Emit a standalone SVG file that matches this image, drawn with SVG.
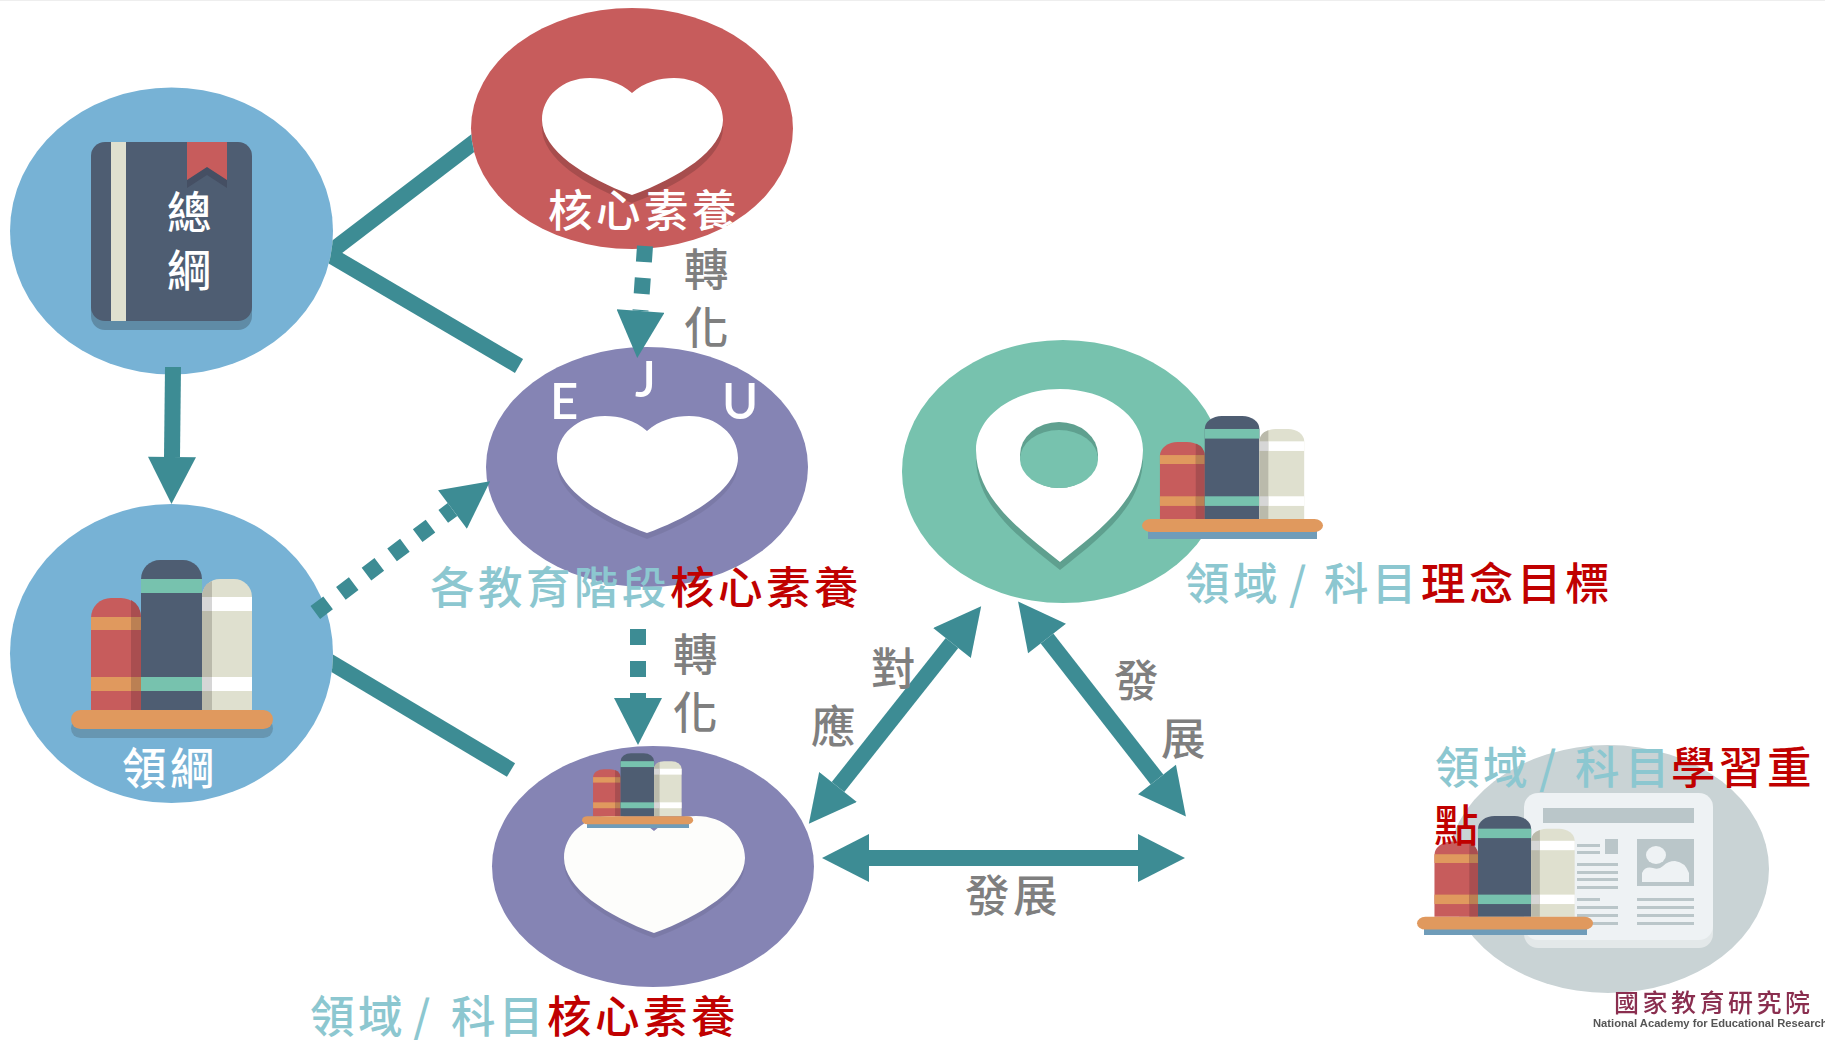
<svg xmlns="http://www.w3.org/2000/svg" width="1825" height="1040" viewBox="0 0 1825 1040">
<style>
text{font-family:"Noto Sans CJK TC","Liberation Sans",sans-serif;font-size:44.5px}
.w{fill:#fff;font-weight:500}
.g{fill:#7f7f7f;font-weight:500}
.t{fill:#8cc7d0;font-weight:500}
.r{fill:#c00000;font-weight:500}
.latin{font-family:"Lato","Liberation Sans",sans-serif;font-size:49px;font-weight:600;fill:#fff}
.conn{fill:none;stroke:#3d8c94;stroke-width:16}
.arr{marker-end:url(#head)}
.both{marker-start:url(#head);marker-end:url(#head)}
.dash{stroke-dasharray:16 16}
.shadow{fill:#000;fill-opacity:.16}
.shadow2{fill:#000;fill-opacity:.07}
.nl{fill:#bac6c9}
.shelf{fill:#6f9cb9}
</style>
<defs>
<marker id="head" markerUnits="userSpaceOnUse" markerWidth="48" markerHeight="48" viewBox="0 0 47 48" refX="0" refY="24" orient="auto-start-reverse"><path d="M0,0L47,24L0,48Z" fill="#3d8c94"/></marker>
<filter id="soft" x="-5%" y="-20%" width="110%" height="140%"><feGaussianBlur stdDeviation="0.6"/></filter>
<path id="heart" d="M632,93C620,82 604,78 590,78C562,78 542,97 542,120C542,150 585,178 632,195C679,178 723,150 723,120C723,97 702,78 674,78C660,78 644,82 632,93Z"/>
<g id="books">
<path d="M91,710V618a20,20 0 0 1 20,-20h10a20,20 0 0 1 20,20V710Z" fill="#c75c5c"/>
<path d="M131,710V600q10,5 10,18V710Z" fill="#a94e50"/>
<rect x="91" y="617" width="40" height="13" fill="#e0995e"/><rect x="131" y="617" width="10" height="13" fill="#bb8053"/>
<rect x="91" y="677" width="40" height="14" fill="#e0995e"/><rect x="131" y="677" width="10" height="14" fill="#bb8053"/>
<path d="M141,710V579a19,19 0 0 1 19,-19h23a19,19 0 0 1 19,19V710Z" fill="#4e5d72"/>
<rect x="141" y="579" width="61" height="14" fill="#77c2ae"/><rect x="141" y="677" width="61" height="14" fill="#77c2ae"/>
<path d="M202,710V597a18,18 0 0 1 18,-18h14a18,18 0 0 1 18,18V710Z" fill="#dfe0cf"/>
<path d="M202,710V597q0,-12 10,-16V710Z" fill="#babaab"/>
<rect x="212" y="597" width="40" height="14" fill="#fff"/><rect x="202" y="597" width="10" height="14" fill="#d6d6d6"/>
<rect x="212" y="677" width="40" height="14" fill="#fff"/><rect x="202" y="677" width="10" height="14" fill="#d6d6d6"/>
<rect x="71" y="710" width="202" height="19" rx="9.5" fill="#e0995e"/>
</g>
<mask id="cut" maskUnits="userSpaceOnUse" x="0" y="0" width="1825" height="1040">
<rect width="1825" height="1040" fill="#fff"/>
<ellipse cx="171.5" cy="231" rx="161.5" ry="143.5" fill="#000"/>
<ellipse cx="171.5" cy="653.5" rx="161.5" ry="149.5" fill="#000"/>
<ellipse cx="632" cy="128.5" rx="161" ry="120.5" fill="#000"/>
</mask>
</defs>
<rect width="1825" height="1040" fill="#fff"/>
<rect width="1825" height="1" fill="#eee"/>

<g id="node-zonggang">
<ellipse cx="171.5" cy="231" rx="161.5" ry="143.5" fill="#77b2d5"/>
<rect x="91" y="151" width="161" height="179" rx="14" fill="#5f8ba6"/>
<rect x="91" y="142" width="161" height="179" rx="14" fill="#4e5d72"/>
<rect x="111" y="142" width="15" height="179" fill="#dfe0cf"/>
<path d="M187,150V188L207,175L227,188V150Z" fill="#454f63"/>
<path d="M187,142V180L207,167L227,180V142Z" fill="#c75c5c"/>
<text class="w"><tspan x="167" y="229">總</tspan><tspan x="167" y="287">綱</tspan></text>
</g>

<g id="node-lingang">
<ellipse cx="171.5" cy="653.5" rx="161.5" ry="149.5" fill="#77b2d5"/>
<rect x="71" y="719" width="202" height="19" rx="9.5" fill="#6796b1"/>
<use href="#books"/>
<text class="w" y="785" x="122 170">領綱</text>
</g>

<g id="node-core">
<ellipse cx="632" cy="128.5" rx="161" ry="120.5" fill="#c75c5c"/>
<use href="#heart" transform="translate(0,8)" class="shadow"/>
<use href="#heart" fill="#fff"/>
<text class="w" y="227" x="548 596 644 692">核心素養</text>
</g>

<g id="node-stage">
<ellipse cx="647" cy="467" rx="161" ry="120" fill="#8584b4"/>
<use href="#heart" transform="translate(15,344)" class="shadow2"/>
<use href="#heart" transform="translate(15,338)" fill="#fff"/>
<text class="latin" x="550" y="419">E</text>
<text class="latin" x="635" y="397">J</text>
<text class="latin" x="722" y="419">U</text>
<text y="604" x="430 478 526 574 622" class="t">各教育階段</text>
<text y="604" x="670 718 766 814" class="r">核心素養</text>
</g>

<g id="node-domain">
<ellipse cx="653" cy="866.5" rx="161" ry="120.5" fill="#8584b4"/>
<use href="#heart" transform="translate(22,743)" class="shadow2"/>
<use href="#heart" transform="translate(22,738)" fill="#fdfdfb"/>
<rect class="shelf" x="587" y="820" width="102" height="8"/>
<use href="#books" transform="translate(543,518) scale(.55,.42)"/>
<text y="1033" x="310 358 405 413 437 451 499" class="t">領域 / 科目</text>
<text y="1033" x="547 595 643 691" class="r">核心素養</text>
</g>

<g id="node-goal">
<ellipse cx="1063" cy="471.5" rx="161" ry="131.5" fill="#77c2ae"/>
<path d="M1060,570C1020,538 976,506 976,458C976,423 1015,397 1060,397C1105,397 1143,423 1143,458C1143,506 1100,538 1060,570Z" fill="#5fa08f"/>
<path d="M1060,562C1020,530 976,498 976,450C976,415 1015,389 1060,389C1105,389 1143,415 1143,450C1143,498 1100,530 1060,562Z" fill="#fff"/>
<ellipse cx="1059" cy="455" rx="39" ry="33" fill="#5fa08f"/>
<ellipse cx="1059" cy="459" rx="39" ry="29" fill="#77c2ae"/>
<rect class="shelf" x="1148" y="526" width="169" height="13"/>
<use href="#books" transform="translate(1078.4,31.2) scale(.896,.687)"/>
<text y="600" x="1185 1233 1281 1289 1313 1324 1372" class="t">領域 / 科目</text>
<text y="600" x="1421 1469 1517 1565" class="r">理念目標</text>
</g>

<g id="node-focus">
<ellipse cx="1608" cy="869" rx="161" ry="124" fill="#c9d3d5"/>
<rect x="1524" y="800" width="189" height="148" rx="14" fill="#e3e8e9"/>
<rect x="1524" y="793" width="189" height="147" rx="14" fill="#eef2f4"/>
<rect class="nl" x="1543" y="808" width="151" height="15"/>
<rect class="nl" x="1605" y="839" width="13" height="15"/>
<rect class="nl" x="1577" y="844" width="23" height="3"/>
<rect class="nl" x="1577" y="851" width="23" height="3"/>
<rect class="nl" x="1577" y="863" width="41" height="3"/>
<rect class="nl" x="1577" y="871" width="41" height="3"/>
<rect class="nl" x="1577" y="878" width="41" height="3"/>
<rect class="nl" x="1577" y="886" width="41" height="3"/>
<rect class="nl" x="1577" y="898" width="23" height="3"/>
<rect class="nl" x="1577" y="906" width="41" height="3"/>
<rect class="nl" x="1577" y="914" width="41" height="3"/>
<rect class="nl" x="1577" y="922" width="41" height="3"/>
<rect class="nl" x="1637" y="839" width="57" height="47"/>
<ellipse cx="1656" cy="855" rx="10" ry="9" fill="#eef2f4"/>
<path d="M1642,882V873q3,-7 11,-5q6,2 10,-2q5,-5 12,-5q10,1 14,12V882Z" fill="#eef2f4"/>
<rect class="nl" x="1637" y="898" width="57" height="3"/>
<rect class="nl" x="1637" y="906" width="57" height="3"/>
<rect class="nl" x="1637" y="914" width="57" height="3"/>
<rect class="nl" x="1637" y="922" width="57" height="3"/>
<rect class="shelf" x="1424" y="922" width="163" height="13"/>
<use href="#books" transform="translate(1355.2,439) scale(.871,.673)"/>
<text y="784" x="1435 1483 1531 1539 1563 1575 1625" class="t">領域 / 科目</text>
<text y="784" x="1671 1719 1767" class="r">學習重</text>
<text y="842" x="1434" class="r">點</text>
</g>

<g id="logo">
<rect x="1593" y="994" width="232" height="46" fill="#fff"/>
<g filter="url(#soft)">
<text y="1012" x="1614 1642.5 1671 1699.5 1728 1756.5 1785" style="font-size:25px;font-weight:500;fill:#8a2f50">國家教育研究院</text>
<text x="1593" y="1027" style="font-family:'Liberation Sans',sans-serif;font-size:11.2px;font-weight:700;fill:#555">National Academy for Educational Research</text>
</g>
</g>

<g id="connectors">
<g mask="url(#cut)">
<line class="conn" x1="325" y1="256" x2="490" y2="130"/>
<line class="conn" x1="325" y1="252" x2="519" y2="366"/>
<line class="conn" x1="320" y1="656" x2="511" y2="770"/>
</g>
<line class="conn arr" x1="173" y1="367" x2="172" y2="457"/>
<line class="conn arr dash" x1="315.3" y1="612.5" x2="452.5" y2="509.5"/>
<line class="conn arr dash" x1="645" y1="246" x2="640.5" y2="311"/>
<line class="conn arr dash" x1="638" y1="629" x2="638" y2="698"/>
<line class="conn both" x1="838" y1="787" x2="952" y2="643"/>
<line class="conn both" x1="1047" y1="638.5" x2="1157" y2="779.5"/>
<line class="conn both" x1="869" y1="858" x2="1138" y2="858"/>
</g>

<g id="connector-labels">
<text class="g" x="684" y="286">轉</text>
<text class="g" x="684" y="344">化</text>
<text class="g" x="673" y="671">轉</text>
<text class="g" x="673" y="729">化</text>
<text class="g" x="871" y="685">對</text>
<text class="g" x="811" y="743">應</text>
<text class="g" x="1114" y="697">發</text>
<text class="g" x="1161" y="755">展</text>
<text class="g" x="965 1013" y="912">發展</text>
</g>
</svg>
